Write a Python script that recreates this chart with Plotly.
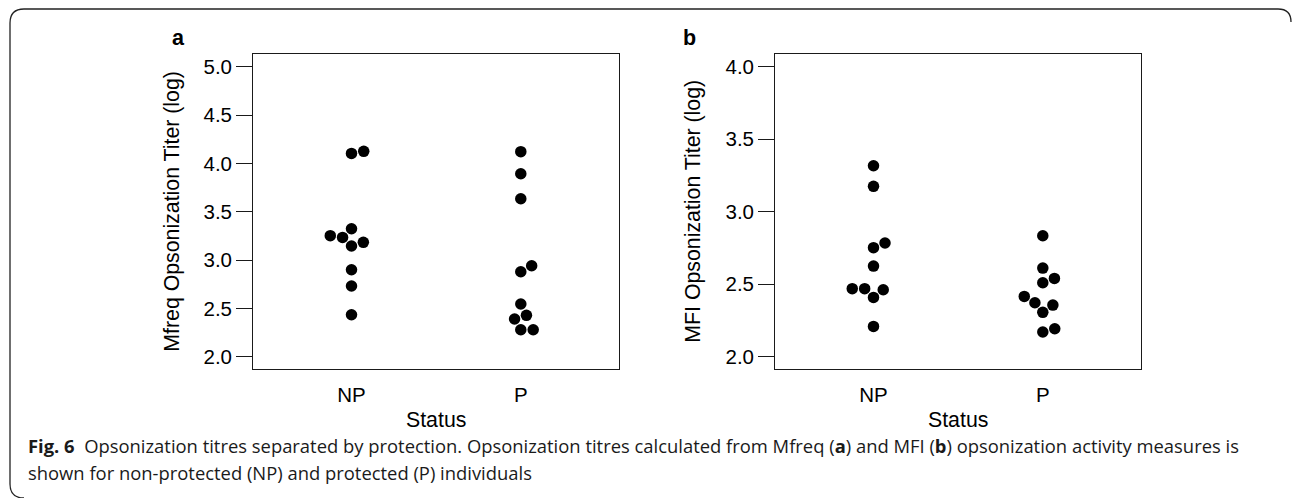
import numpy as np
import plotly.graph_objects as go

W, H = 1292, 498

# ---- data ----
categories = ["NP", "P"]
mfreq_np = [4.103, 4.124, 3.252, 3.234, 3.324, 3.145, 3.183, 2.900, 2.731, 2.434]
mfreq_p = [4.121, 3.893, 3.634, 2.879, 2.941, 2.545, 2.390, 2.428, 2.279, 2.279]
mfi_np = [3.317, 3.175, 2.752, 2.784, 2.625, 2.469, 2.469, 2.462, 2.409, 2.209]
mfi_p = [2.834, 2.611, 2.510, 2.540, 2.416, 2.372, 2.356, 2.306, 2.170, 2.193]
yticks_a = [2.0, 2.5, 3.0, 3.5, 4.0, 4.5, 5.0]
yticks_b = [2.0, 2.5, 3.0, 3.5, 4.0]

# ---- layout geometry (pixels) ----
box_a = (253.3, 619.0)
box_b = (775.3, 1141.0)
box_top, box_bot = 54.3, 369.0
xrange_ = [0.42, 2.58]
yrange_a = [1.873, 5.128]
yrange_b = [1.915, 4.086]
MS = 11.5          # marker diameter px
SPACING = 12.4     # swarm spacing px


def swarm(vals, px_per_unit_y, px_per_unit_x, d=SPACING):
    """Beeswarm 'swarm' method (ascending priority), returns x offsets in data units."""
    v = np.asarray(vals, float) * px_per_unit_y / d
    order = np.argsort(v, kind="stable")
    off = np.zeros(len(v))
    placed = []
    for i in order:
        xi = v[i]
        cand = [0.0]
        pre = [(v[j], off[j]) for j in placed if abs(xi - v[j]) < 1]
        for px_, py_ in pre:
            o = np.sqrt(1 - (xi - px_) ** 2)
            cand.append(py_ + o)
        for px_, py_ in pre:
            o = np.sqrt(1 - (xi - px_) ** 2)
            cand.append(py_ - o)
        best = None
        for c in cand:
            bad = any(((xi - px_) ** 2 + (c - py_) ** 2) < 0.999 for px_, py_ in pre)
            if not bad and (best is None or abs(c) < abs(best)):
                best = c
        off[i] = best
        placed.append(i)
    return off * d / px_per_unit_x


fig = go.Figure()
plot_h = box_bot - box_top
for k, (box, yr, groups, xa, ya) in enumerate([
    (box_a, yrange_a, [mfreq_np, mfreq_p], "x", "y"),
    (box_b, yrange_b, [mfi_np, mfi_p], "x2", "y2"),
]):
    ppx = (box[1] - box[0]) / (xrange_[1] - xrange_[0])
    ppy = plot_h / (yr[1] - yr[0])
    for gi, vals in enumerate(groups):
        offs = swarm(vals, ppy, ppx)
        fig.add_trace(go.Scatter(
            x=[gi + 1 + o for o in offs], y=vals, mode="markers",
            marker=dict(size=MS, color="black", line=dict(width=0)),
            xaxis=xa, yaxis=ya, showlegend=False, hoverinfo="y"))

AX_FONT = dict(family="Liberation Sans, Arial", size=20.5, color="black")
ydom = [1 - box_bot / H, 1 - box_top / H]


def xax(box):
    return dict(domain=[box[0] / W, box[1] / W], range=xrange_, tickmode="array",
                tickvals=[1, 2], ticktext=categories, ticks="", showgrid=False,
                zeroline=False, showline=True, mirror=True, linecolor="#1a1a1a",
                linewidth=1.4, tickfont=AX_FONT, ticklabelstandoff=7, fixedrange=True)


def yax(yr, ticks, anchor):
    return dict(domain=ydom, range=yr, tickmode="array", tickvals=ticks,
                ticktext=[f"{t:.1f}" for t in ticks], ticks="outside", ticklen=16,
                tickwidth=1.2, tickcolor="#1a1a1a", showgrid=False, zeroline=False,
                showline=True, mirror=True, linecolor="#1a1a1a", linewidth=1.4,
                tickfont=AX_FONT, anchor=anchor, fixedrange=True)


fig.update_layout(
    width=W, height=H, margin=dict(l=0, r=0, t=0, b=0),
    paper_bgcolor="white", plot_bgcolor="white",
    xaxis=dict(xax(box_a), anchor="y"),
    yaxis=yax(yrange_a, yticks_a, "x"),
    xaxis2=dict(xax(box_b), anchor="y2"),
    yaxis2=yax(yrange_b, yticks_b, "x2"),
)


def px(x):
    return x / W


def py(y):
    return 1 - y / H


ann = []
TITLE_FONT = dict(family="Liberation Sans, Arial", size=21.3, color="black")
for box, ylab, lab, labx, ytx in [
    (box_a, "Mfreq Opsonization Titer (log)", "a", 178, 172),
    (box_b, "MFI Opsonization Titer (log)", "b", 690, 693),
]:
    cx = (box[0] + box[1]) / 2
    ann.append(dict(x=px(cx), y=py(420), text="Status", showarrow=False,
                    xref="paper", yref="paper", xanchor="center", yanchor="middle",
                    font=TITLE_FONT))
    ann.append(dict(x=px(ytx), y=py((box_top + box_bot) / 2), text=ylab, textangle=-90,
                    showarrow=False, xref="paper", yref="paper", xanchor="center",
                    yanchor="middle", font=TITLE_FONT))
    ann.append(dict(x=px(labx), y=py(38), text=f"<b>{lab}</b>", showarrow=False,
                    xref="paper", yref="paper", xanchor="center", yanchor="middle",
                    font=dict(family="Liberation Sans, Arial", size=21.5, color="black")))

CAP_FONT = dict(family="Open Sans, Noto Sans", size=18.4, color="#1a1a1a")
cap1 = ("<b>Fig. 6</b>  Opsonization titres separated by protection. Opsonization titres "
        "calculated from Mfreq (<b>a</b>) and MFI (<b>b</b>) opsonization activity measures is")
cap2 = "shown for non-protected (NP) and protected (P) individuals"
for txt, yc in [(cap1, 445), (cap2, 472)]:
    ann.append(dict(x=px(26), y=py(yc), text=txt, showarrow=False, xref="paper",
                    yref="paper", xanchor="left", yanchor="middle", align="left",
                    font=CAP_FONT))
fig.update_layout(annotations=ann)

# outer rounded frame
fx = lambda v: v / W
fy = lambda v: 1 - v / H
path = (f"M {fx(24)},{fy(498)} Q {fx(10)},{fy(498)} {fx(10)},{fy(484)} "
        f"L {fx(10)},{fy(23)} Q {fx(10)},{fy(9)} {fx(24)},{fy(9)} "
        f"L {fx(1278)},{fy(9)} Q {fx(1291)},{fy(9)} {fx(1291)},{fy(22)}")
fig.add_shape(type="path", path=path, xref="paper", yref="paper",
              line=dict(color="#222222", width=1.3))

fig.write_html("out.html", config={"displayModeBar": False},
               post_script="document.body.style.margin='0';")
